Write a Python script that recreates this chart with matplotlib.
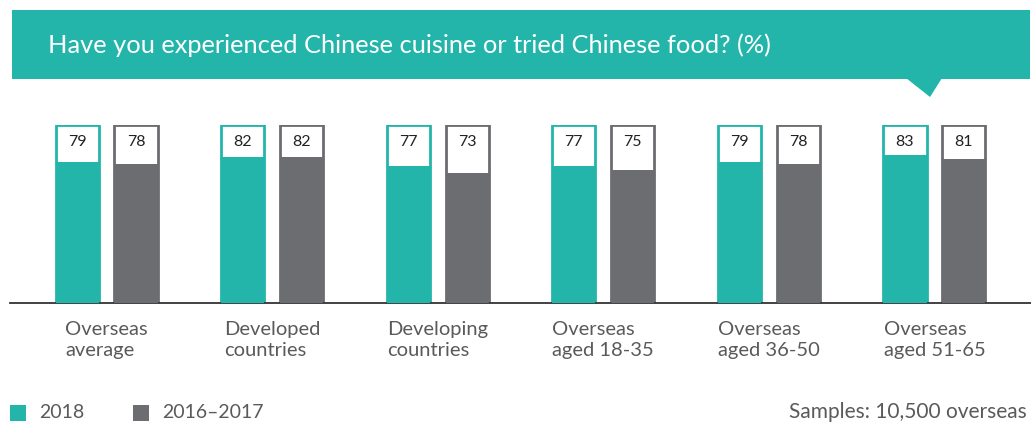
import numpy as np
import matplotlib.pyplot as plt
from matplotlib.patches import Rectangle, Polygon

plt.rcParams['font.family'] = ['Lato', 'DejaVu Sans']

# Survey results (%)
groups = ["Overseas\naverage", "Developed\ncountries", "Developing\ncountries",
          "Overseas\naged 18-35", "Overseas\naged 36-50", "Overseas\naged 51-65"]
series_names = ["2018", "2016\u20132017"]
values_2018 = [79, 82, 77, 77, 79, 83]
values_2016_2017 = [78, 82, 73, 75, 78, 81]

title = "Have you experienced Chinese cuisine or tried Chinese food? (%)"
note = "Samples: 10,500 overseas"

teal = "#23b5aa"
grey = "#6c6d71"
text_grey = "#5a5a5a"

W, H = 1031, 428
fig = plt.figure(figsize=(W / 100, H / 100), dpi=100)

# background layer in pixel units for banner and legend
bg = fig.add_axes([0, 0, 1, 1])
bg.set_xlim(0, W)
bg.set_ylim(H, 0)
bg.axis("off")

bg.add_patch(Rectangle((12, 10), W - 13, 69, color=teal, lw=0))
bg.add_patch(Polygon([(906, 78), (942, 78), (930, 97)], closed=True, color=teal, lw=0))
bg.text(48, 45, title, color="white", fontsize=18.3, va="center", ha="left")

# legend
for (x0, name, col) in [(10, series_names[0], teal), (133, series_names[1], grey)]:
    bg.add_patch(Rectangle((x0, 405), 16, 16, color=col, lw=0))
    bg.text(x0 + 29, 413, name, color=text_grey, fontsize=14, va="center", ha="left")

bg.text(1027, 412, note, color=text_grey, fontsize=15, va="center", ha="right")

# bar chart area
ax = fig.add_axes([10 / W, (H - 303) / H, 1021 / W, 178 / H])
ax.set_xlim(-0.583, 5.583)
ax.set_ylim(0, 100)

x = np.arange(len(groups))
width = 0.26
offset = 0.178

for vals, col, sign in [(values_2018, teal, -1), (values_2016_2017, grey, 1)]:
    xs = x + sign * offset
    # outlined frame representing 100%
    ax.bar(xs, [100] * len(vals), width, facecolor="white", edgecolor=col, lw=2, zorder=2)
    ax.bar(xs, vals, width, color=col, lw=0, zorder=3)
    for xi, v in zip(xs, vals):
        ax.text(xi, 90.5, str(v), ha="center", va="center", fontsize=11.5, color="#222222", zorder=4)

for xi, g in zip(x, groups):
    ax.text(xi, -10, g, ha="center", va="top", multialignment="left",
            fontsize=14.5, color=text_grey, linespacing=1.3, clip_on=False)

for s in ["top", "left", "right"]:
    ax.spines[s].set_visible(False)
ax.spines["bottom"].set_color("#333333")
ax.spines["bottom"].set_linewidth(1.3)
ax.set_xticks([])
ax.set_yticks([])

fig.savefig("out.png", dpi=100)
